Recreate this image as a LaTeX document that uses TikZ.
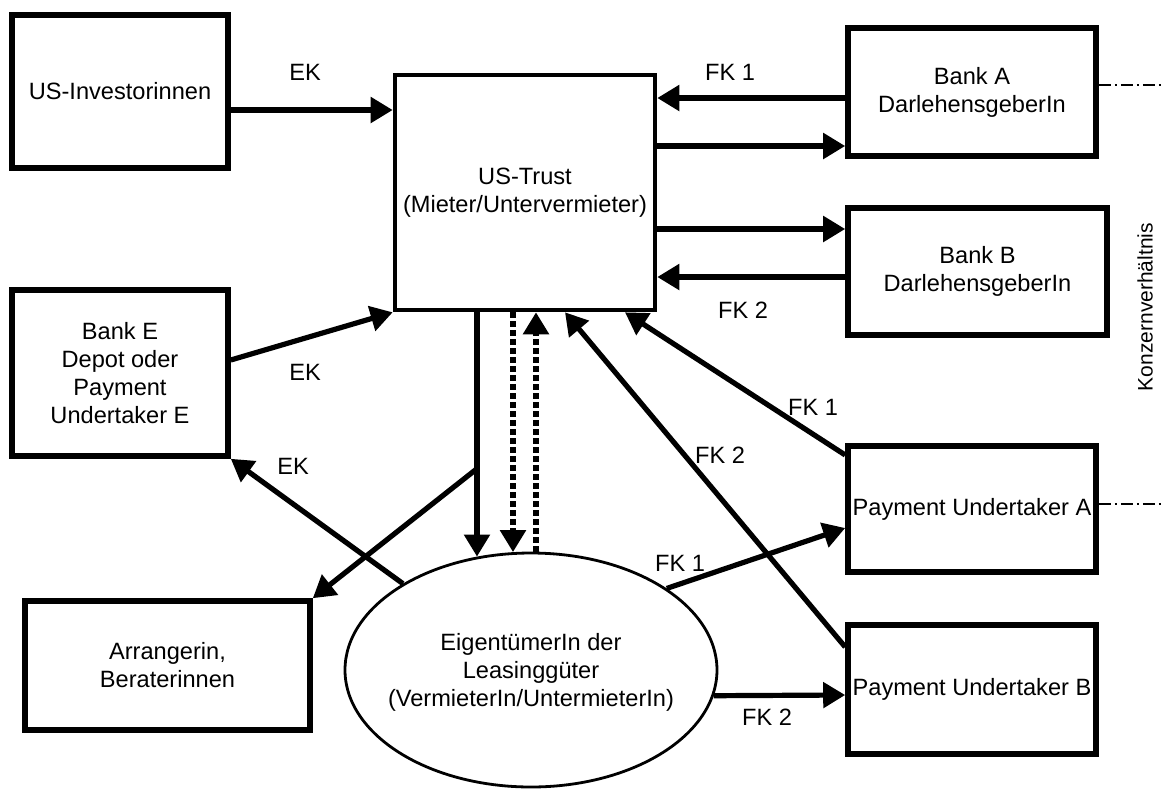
\documentclass[tikz,border=0pt]{standalone}
\usepackage{fontspec}
\setmainfont{Liberation Sans}
\usetikzlibrary{arrows.meta,calc,shapes.geometric}

\begin{document}
\begin{tikzpicture}[x=0.5pt,y=-0.5pt,>={Triangle[length=11pt,width=12.5pt]},
	txt/.style={font=\fontsize{11.8}{14}\selectfont},
	box/.style={txt,draw,line width=2.8pt,inner sep=0pt,align=center},
	flow/.style={->,line width=2.6pt},
	dotflow/.style={->,line width=2.7pt,dash pattern=on 2.6pt off 1.9pt},
	group/.style={line width=0.7pt,dash pattern=on 6pt off 2pt on 1pt off 2pt}]
	\useasboundingbox (0,0) rectangle (1164,789);

	%boxes left
	\node[box,minimum width=108pt,minimum height=76.5pt] (inv) at (120,91.5) {US-Investorinnen};
	\node[box,minimum width=108pt,minimum height=83pt] (bankE) at (120,373) {Bank E\\Depot oder\\Payment\\Undertaker E};
	\node[box,minimum width=142.5pt,minimum height=64.5pt] (arr) at (167.5,665.5) {Arrangerin,\\Beraterinnen};

	%trust and owner
	\node[box,line width=2.3pt,minimum width=130pt,minimum height=117.5pt] (trust) at (525,192.5) {US-Trust\\(Mieter/Untervermieter)};
	\node[draw,ellipse,line width=1.4pt,minimum width=186pt,minimum height=117pt] (eig) at (531,670) {};
	\node[txt,align=center] (eigtext) at (531,672) {EigentümerIn der\\Leasinggüter\\(VermieterIn/UntermieterIn)};

	%boxes right
	\node[box,minimum width=124pt,minimum height=64pt] (bankA) at (972,92) {Bank A\\DarlehensgeberIn};
	\node[box,minimum width=129.5pt,minimum height=63.5pt] (bankB) at (977.5,271.5) {Bank B\\DarlehensgeberIn};
	\node[box,minimum width=124pt,minimum height=63pt] (payA) at (972,509) {Payment Undertaker A};
	\node[box,minimum width=124pt,minimum height=64.5pt] (payB) at (972,689.5) {Payment Undertaker B};

	%EK arrows
	\draw[flow] ($(inv.east)+(0,18.5)$) -- ($(trust.west)+(0,-82.5)$);
	\draw[flow] ($(bankE.east)+(0,-13)$) -- (trust.south west);
	\draw[flow] (eig.146) -- (bankE.south east);

	%bank arrows
	\draw[flow] ($(bankA.west)+(0,6)$) -- ($(trust.east)+(0,-94.5)$);		%FK 1
	\draw[flow] ($(trust.east)+(0,-46.5)$) -- ($(bankA.west)+(0,54)$);
	\draw[flow] ($(trust.east)+(0,36.5)$) -- ($(bankB.west)+(0,-42.5)$);
	\draw[flow] ($(bankB.west)+(0,5.5)$) -- ($(trust.east)+(0,84.5)$);		%FK 2

	%trust down to owner
	\draw[flow] ($(trust.south)+(-48,0)$) -- coordinate[pos=0.64] (split) ($(eig.north)+(-54,5)$);
	\draw[flow] (split) -- (arr.north east);
	\draw[dotflow] ($(trust.south)+(-12,0)$) -- ($(eig.north)+(-18,0.5)$);
	\draw[dotflow] ($(eig.north)+(5,0)$) -- ($(trust.south)+(11,0)$);

	%payment undertaker arrows
	\draw[flow] ($(payA.west)+(0,-54)$) -- ($(trust.south)+(100,0)$);
	\draw[flow] ($(payB.west)+(0,-42.5)$) -- ($(trust.south)+(40,0)$);
	\draw[flow] (eig.31) -- ($(payA.west)+(0,19)$);
	\draw[flow] (eig.-8) -- ($(payB.west)+(0,5.5)$);

	%group lines
	\coordinate (rimA) at (1164,85);
	\coordinate (rimP) at (1164,504);
	\draw[group] ($(bankA.east)+(0,-7)$) -- (rimA);
	\draw[group] ($(payA.east)+(0,-5)$) -- (rimP);
	\node[rotate=90,font=\fontsize{10.5}{12}\selectfont] (konzern) at (1145,307) {Konzernverhältnis};

	%labels
	\node[txt] (ekA) at (305,72)  {EK};
	\node[txt] (ekB) at (305,372) {EK};
	\node[txt] (ekC) at (293,466) {EK};
	\node[txt] (fkA) at (730,72)  {FK 1};
	\node[txt] (fkB) at (743,310) {FK 2};
	\node[txt] (fkC) at (813,407) {FK 1};
	\node[txt] (fkD) at (720,455) {FK 2};
	\node[txt] (fkE) at (680,563) {FK 1};
	\node[txt] (fkF) at (767,717) {FK 2};
\end{tikzpicture}
\end{document}
